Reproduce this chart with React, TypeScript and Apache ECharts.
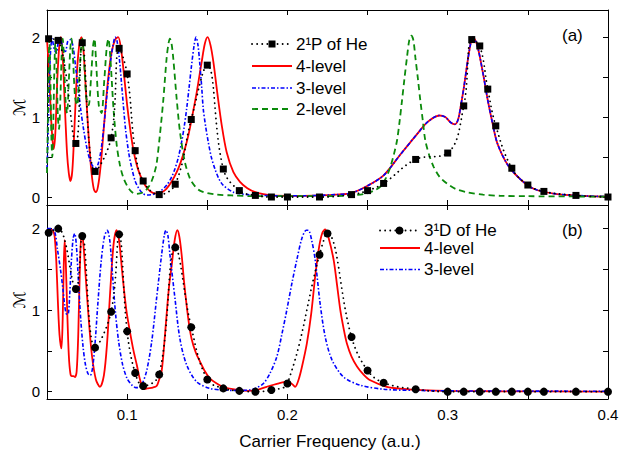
import React, { useEffect, useRef } from "react";
import * as echarts from "echarts";

const xTicks = [0.05, 0.1, 0.15, 0.2, 0.25, 0.3, 0.35, 0.4];
const xLabels = [0.1, 0.2, 0.3, 0.4];
const yTicks = [0, 0.5, 1, 1.5, 2];
const yLabels = [0, 1, 2];

// Panel (a)
const he2P: [number, number][] = [
  [0.051, 1.98], [0.057, 1.96], [0.068, 0.67], [0.072, 1.93], [0.08, 0.32], [0.09, 0.74], [0.095, 1.86],
  [0.1, 1.54], [0.105, 0.58], [0.11, 0.2], [0.12, 0.03], [0.13, 0.16], [0.14, 0.97], [0.15, 1.65],
  [0.16, 0.35], [0.17, 0.08], [0.18, 0.02], [0.19, 0.0], [0.2, 0.0], [0.22, 0.0], [0.24, 0.03],
  [0.25, 0.08], [0.26, 0.17], [0.28, 0.47], [0.3, 0.55], [0.31, 1.14], [0.315, 1.97], [0.32, 1.89],
  [0.325, 1.35], [0.33, 0.89], [0.34, 0.36], [0.35, 0.15], [0.36, 0.07], [0.38, 0.02], [0.4, 0.0],
];

const sharedA: [number, number][] = [
  [0.21, 0.015], [0.22, 0.02], [0.23, 0.03], [0.24, 0.05], [0.25, 0.14], [0.26, 0.27], [0.27, 0.52],
  [0.281, 0.79], [0.2875, 0.94], [0.2948, 1.02], [0.2985, 1.0], [0.302, 0.93], [0.3045, 0.91],
  [0.3065, 0.97], [0.308, 1.12], [0.3103, 1.4], [0.3125, 1.71], [0.3143, 1.92], [0.3156, 2.0],
  [0.317, 1.97], [0.3188, 1.87], [0.322, 1.55], [0.325, 1.21], [0.328, 0.92], [0.331, 0.67],
  [0.3375, 0.4], [0.346, 0.21], [0.354, 0.1], [0.367, 0.04], [0.385, 0.015], [0.4, 0.005],
];

const red4A: [number, number][] = [
  [0.05, 1.97], [0.0512, 1.6], [0.0525, 1.0], [0.0535, 0.7], [0.0542, 0.6], [0.0552, 0.8], [0.0565, 1.5],
  [0.0577, 1.9], [0.0586, 2.0], [0.0597, 1.8], [0.061, 1.2], [0.0625, 0.55], [0.0636, 0.3], [0.0646, 0.2],
  [0.0658, 0.33], [0.0672, 0.9], [0.0688, 1.6], [0.0703, 1.93], [0.0715, 2.0], [0.0727, 1.85],
  [0.0742, 1.35], [0.076, 0.75], [0.0778, 0.3], [0.0792, 0.1], [0.0804, 0.06], [0.0818, 0.13],
  [0.0835, 0.4], [0.0858, 0.95], [0.088, 1.45], [0.0902, 1.8], [0.0925, 1.97], [0.0944, 2.0],
  [0.0962, 1.85], [0.0982, 1.5], [0.1, 1.15], [0.1017, 0.88], [0.1038, 0.6], [0.106, 0.4], [0.108, 0.28],
  [0.11, 0.19], [0.1125, 0.11], [0.1145, 0.07], [0.117, 0.045], [0.12, 0.05], [0.1225, 0.07],
  [0.1246, 0.105], [0.128, 0.2], [0.1309, 0.31], [0.1335, 0.44], [0.136, 0.6], [0.1383, 0.78],
  [0.1403, 0.98], [0.1434, 1.31], [0.1465, 1.69], [0.1485, 1.92], [0.1502, 2.0], [0.152, 1.9],
  [0.1538, 1.69], [0.1562, 1.31], [0.159, 0.9], [0.1621, 0.56], [0.1663, 0.31], [0.1704, 0.19],
  [0.175, 0.11], [0.18, 0.06], [0.185, 0.035], [0.19, 0.02], [0.2, 0.015],
];

const blue3A: [number, number][] = [
  [0.05, 0.35], [0.0507, 0.8], [0.0515, 1.45], [0.0523, 1.85], [0.0532, 1.98], [0.0545, 1.85],
  [0.0558, 1.8], [0.057, 1.93], [0.0585, 1.97], [0.06, 1.85], [0.0615, 1.82], [0.063, 1.95],
  [0.0648, 1.97], [0.0665, 1.85], [0.068, 1.6], [0.0695, 1.35], [0.071, 1.1], [0.0728, 0.85],
  [0.0748, 0.62], [0.077, 0.45], [0.0788, 0.38], [0.0805, 0.37], [0.082, 0.42], [0.0838, 0.6],
  [0.0858, 0.95], [0.088, 1.4], [0.09, 1.75], [0.0915, 1.93], [0.0925, 2.0], [0.0937, 1.95],
  [0.0952, 1.72], [0.097, 1.3], [0.099, 0.85], [0.101, 0.55], [0.1027, 0.38], [0.105, 0.2],
  [0.1075, 0.1], [0.11, 0.04], [0.1125, 0.025], [0.1155, 0.03], [0.118, 0.045], [0.1215, 0.085],
  [0.1246, 0.146], [0.1275, 0.24], [0.1298, 0.35], [0.132, 0.5], [0.134, 0.69], [0.1356, 0.88],
  [0.1371, 1.1], [0.1387, 1.38], [0.1402, 1.65], [0.1418, 1.9], [0.143, 2.0], [0.1442, 1.9],
  [0.1454, 1.65], [0.1465, 1.38], [0.1475, 1.1], [0.149, 0.88], [0.1506, 0.69], [0.1525, 0.5],
  [0.1548, 0.35], [0.1572, 0.23], [0.16, 0.146], [0.1663, 0.06], [0.175, 0.03], [0.185, 0.02],
  [0.2, 0.015],
];

const green2A: [number, number][] = [
  [0.05, 0.3], [0.0505, 0.9], [0.051, 1.6], [0.0515, 1.98], [0.0521, 1.5], [0.0528, 0.7], [0.0533, 0.5],
  [0.0539, 0.9], [0.0546, 1.6], [0.0553, 1.98], [0.056, 1.6], [0.0568, 1.0], [0.0575, 0.85],
  [0.0583, 1.2], [0.0591, 1.75], [0.0598, 1.98], [0.0606, 1.7], [0.0616, 1.2], [0.0625, 1.05],
  [0.0635, 1.4], [0.0645, 1.85], [0.0653, 1.98], [0.0662, 1.75], [0.0675, 1.25], [0.0688, 1.15],
  [0.07, 1.45], [0.0712, 1.85], [0.072, 1.98], [0.073, 1.75], [0.0745, 1.25], [0.076, 1.15],
  [0.0775, 1.5], [0.0788, 1.9], [0.0796, 1.98], [0.0806, 1.7], [0.0823, 1.15], [0.084, 1.05],
  [0.0857, 1.45], [0.0873, 1.88], [0.0883, 1.98], [0.0895, 1.75], [0.0915, 1.1], [0.0935, 0.65],
  [0.0955, 0.4], [0.0975, 0.25], [0.1, 0.14], [0.1025, 0.07], [0.105, 0.04], [0.108, 0.045],
  [0.111, 0.07], [0.1135, 0.13], [0.1153, 0.2], [0.117, 0.3], [0.1184, 0.42], [0.1204, 0.77],
  [0.1225, 1.2], [0.1246, 1.73], [0.1258, 1.92], [0.1267, 1.98], [0.1277, 1.92], [0.1288, 1.73],
  [0.1309, 1.23], [0.133, 0.81], [0.136, 0.44], [0.1392, 0.23], [0.1425, 0.13], [0.1454, 0.08],
  [0.15, 0.05], [0.1559, 0.03], [0.165, 0.02], [0.18, 0.01], [0.2, 0.01], [0.22, 0.01], [0.235, 0.015],
  [0.243, 0.025], [0.2496, 0.045], [0.254, 0.08], [0.258, 0.13], [0.2615, 0.24], [0.2642, 0.375],
  [0.2665, 0.54], [0.2684, 0.71], [0.27, 0.95], [0.2715, 1.21], [0.273, 1.48], [0.2746, 1.75],
  [0.276, 1.96], [0.2773, 2.02], [0.2786, 1.96], [0.2798, 1.75], [0.2814, 1.48], [0.2829, 1.21],
  [0.2845, 0.95], [0.286, 0.71], [0.2885, 0.52], [0.2913, 0.375], [0.295, 0.25], [0.2996, 0.167],
  [0.305, 0.1], [0.3121, 0.06], [0.322, 0.03], [0.333, 0.015], [0.35, 0.01], [0.4, 0.005],
];

// Panel (b)
const he3D: [number, number][] = [
  [0.051, 1.95], [0.057, 2.0], [0.068, 1.26], [0.072, 1.91], [0.08, 0.54], [0.09, 0.98], [0.095, 1.93],
  [0.1, 0.74], [0.105, 0.23], [0.11, 0.07], [0.12, 0.21], [0.13, 1.77], [0.14, 0.79], [0.15, 0.15],
  [0.16, 0.04], [0.17, 0.01], [0.18, 0.0], [0.19, 0.02], [0.2, 0.1], [0.22, 1.68], [0.225, 1.94],
  [0.24, 0.67], [0.25, 0.26], [0.26, 0.11], [0.28, 0.03], [0.3, 0.0], [0.31, 0.0], [0.32, 0.0],
  [0.33, 0.0], [0.34, 0.0], [0.35, 0.0], [0.36, 0.0], [0.38, 0.0], [0.4, 0.0],
];

const red4B: [number, number][] = [
  [0.05, 1.98], [0.052, 1.99], [0.0538, 1.97], [0.0548, 1.9], [0.0558, 1.6], [0.0568, 1.1], [0.0578, 0.7],
  [0.059, 0.53], [0.0598, 0.9], [0.0604, 1.5], [0.061, 1.86], [0.0617, 1.6], [0.0626, 1.0],
  [0.0636, 0.45], [0.0646, 0.22], [0.0655, 0.19], [0.0665, 0.19], [0.0675, 0.18], [0.0685, 0.25],
  [0.0695, 0.7], [0.0705, 1.5], [0.0715, 1.94], [0.0725, 1.85], [0.074, 1.45], [0.076, 0.9],
  [0.078, 0.45], [0.0805, 0.15], [0.083, 0.06], [0.0855, 0.2], [0.0875, 0.6], [0.0895, 1.25],
  [0.0915, 1.8], [0.0934, 1.98], [0.095, 1.85], [0.097, 1.45], [0.0995, 1.0], [0.1017, 0.74],
  [0.104, 0.5], [0.106, 0.33], [0.108, 0.15], [0.1104, 0.03], [0.1125, 0.04], [0.116, 0.05],
  [0.1184, 0.07], [0.12, 0.15], [0.1215, 0.25], [0.123, 0.55], [0.1246, 0.94], [0.1262, 1.3],
  [0.1278, 1.55], [0.1296, 1.85], [0.1313, 1.98], [0.1326, 1.9], [0.134, 1.68], [0.1355, 1.35],
  [0.1371, 1.06], [0.1386, 0.83], [0.1402, 0.65], [0.1428, 0.48], [0.1454, 0.37], [0.1485, 0.25],
  [0.1517, 0.16], [0.1559, 0.1], [0.16, 0.06], [0.166, 0.03], [0.175, 0.01], [0.18, 0.015],
  [0.187, 0.06], [0.194, 0.1], [0.1996, 0.12], [0.2025, 0.1], [0.2048, 0.06], [0.207, 0.15],
  [0.209, 0.3], [0.2121, 0.59], [0.2148, 0.95], [0.2173, 1.41], [0.2198, 1.78], [0.2218, 1.95],
  [0.2236, 1.99], [0.2255, 1.9], [0.2288, 1.62], [0.231, 1.3], [0.233, 1.0], [0.235, 0.78],
  [0.2371, 0.59], [0.24, 0.43], [0.2434, 0.31], [0.2475, 0.21], [0.2517, 0.14], [0.262, 0.06],
  [0.272, 0.035], [0.284, 0.02], [0.3, 0.01], [0.33, 0.005], [0.4, 0.0],
];

const blue3B: [number, number][] = [
  [0.05, 2.0], [0.053, 2.0], [0.055, 1.95], [0.0565, 1.75], [0.0584, 1.5], [0.06, 1.25], [0.0611, 1.05],
  [0.0622, 0.95], [0.0631, 0.95], [0.0642, 1.2], [0.0652, 1.6], [0.0663, 1.88], [0.0673, 1.94],
  [0.0683, 1.8], [0.0695, 1.4], [0.071, 0.9], [0.0725, 0.55], [0.074, 0.33], [0.0756, 0.22],
  [0.077, 0.2], [0.0785, 0.3], [0.08, 0.6], [0.0818, 1.1], [0.0838, 1.6], [0.0858, 1.9],
  [0.0876, 1.98], [0.0892, 1.85], [0.0908, 1.45], [0.0928, 0.95], [0.0948, 0.6], [0.0972, 0.33],
  [0.1, 0.16], [0.103, 0.08], [0.1055, 0.05], [0.107, 0.05], [0.109, 0.08], [0.1121, 0.25],
  [0.1153, 0.61], [0.1184, 1.15], [0.1215, 1.68], [0.1232, 1.92], [0.1242, 1.98], [0.1254, 1.92],
  [0.1267, 1.68], [0.1298, 1.15], [0.1329, 0.65], [0.1371, 0.33], [0.1434, 0.12], [0.1517, 0.04],
  [0.16, 0.02], [0.17, 0.015], [0.176, 0.02], [0.181, 0.05], [0.185, 0.1], [0.189, 0.22],
  [0.1934, 0.43], [0.1965, 0.7], [0.1996, 1.0], [0.203, 1.35], [0.2059, 1.62], [0.209, 1.88],
  [0.2117, 1.98], [0.2131, 1.98], [0.2152, 1.85], [0.2173, 1.62], [0.2204, 1.08], [0.2236, 0.67],
  [0.2278, 0.39], [0.235, 0.18], [0.2454, 0.08], [0.26, 0.03], [0.28, 0.015], [0.3, 0.01], [0.4, 0.005],
];

const FONT = '"Liberation Sans", Arial, sans-serif';
const RED = "#ff0000";
const BLUE = "#0000ff";
const GREEN = "#0b8a0b";

function xAxisDef(gridIndex: number, position: string, showLabel: boolean) {
  return {
    type: "value",
    gridIndex,
    position,
    min: 0.05,
    max: 0.4,
    axisLine: { show: true, onZero: false, lineStyle: { color: "#000", width: 1 } },
    axisTick: { show: true, inside: true, length: 5, customValues: xTicks, lineStyle: { color: "#000", width: 1 } },
    axisLabel: {
      show: showLabel,
      customValues: xLabels,
      formatter: (v: number) => v.toFixed(1),
      fontFamily: FONT,
      fontSize: 15,
      color: "#000",
      margin: 8,
    },
    splitLine: { show: false },
  };
}

function yAxisDef(gridIndex: number, position: string, showLabel: boolean, min: number, max: number) {
  return {
    type: "value",
    gridIndex,
    position,
    min,
    max,
    axisLine: { show: true, onZero: false, lineStyle: { color: "#000", width: 1 } },
    axisTick: { show: true, inside: true, length: 5, customValues: yTicks, lineStyle: { color: "#000", width: 1 } },
    axisLabel: {
      show: showLabel,
      customValues: yLabels,
      formatter: (v: number) => String(Math.round(v)),
      fontFamily: FONT,
      fontSize: 15,
      color: "#000",
      margin: 7,
    },
    splitLine: { show: false },
  };
}

function curve(data: [number, number][], xi: number, yi: number, color: string, type: any, width: number, z: number) {
  return {
    type: "line",
    data,
    xAxisIndex: xi,
    yAxisIndex: yi,
    symbol: "none",
    smooth: 0.3,
    z,
    lineStyle: { color, width, type },
  };
}

function marked(data: [number, number][], xi: number, yi: number, symbol: string, size: number) {
  return {
    type: "line",
    data,
    xAxisIndex: xi,
    yAxisIndex: yi,
    symbol,
    symbolSize: size,
    showAllSymbol: true,
    smooth: 0.4,
    z: 10,
    itemStyle: { color: "#000", borderWidth: 0 },
    lineStyle: { color: "#000", width: 1.8, type: [0.1, 5], cap: "round" },
  };
}

function legendText(x: number, y: number, text: string) {
  return {
    type: "text",
    x,
    y,
    style: {
      text,
      font: `17px ${FONT}`,
      fill: "#000",
      align: "left",
      verticalAlign: "middle",
      textAlign: "left",
      textVerticalAlign: "middle",
    },
  };
}

function legendLine(x1: number, x2: number, y: number, stroke: string, lineDash: any, lineWidth: number) {
  return {
    type: "line",
    shape: { x1, y1: y, x2, y2: y },
    style: { stroke, lineWidth, lineDash, lineCap: lineDash && lineDash[0] < 1 ? "round" : "butt" },
  };
}

export default function App() {
  const ref = useRef<HTMLDivElement>(null);

  useEffect(() => {
    if (!ref.current) return;
    const chart = echarts.init(ref.current, null, { renderer: "svg" });

    const rowsA = [44, 66, 88, 109];
    const rowsB = [230.5, 248, 269.5];

    const graphic: any[] = [
      // legend (a)
      legendLine(252, 292, rowsA[0], "#000", [0.1, 5], 1.8),
      { type: "rect", shape: { x: 268.5, y: rowsA[0] - 3.5, width: 7, height: 7 }, style: { fill: "#000" } },
      legendText(296, rowsA[0], "2¹P of He"),
      legendLine(252, 292, rowsA[1], RED, null, 1.8),
      legendText(296, rowsA[1], "4-level"),
      legendLine(252, 292, rowsA[2], BLUE, [4, 2, 1.5, 2], 1.6),
      legendText(296, rowsA[2], "3-level"),
      legendLine(252, 292, rowsA[3], GREEN, [6, 4], 1.8),
      legendText(296, rowsA[3], "2-level"),
      // legend (b)
      legendLine(380, 420, rowsB[0], "#000", [0.1, 5], 1.8),
      { type: "circle", shape: { cx: 399.5, cy: rowsB[0], r: 4 }, style: { fill: "#000" } },
      legendText(424, rowsB[0], "3¹D of He"),
      legendLine(380, 420, rowsB[1], RED, null, 1.8),
      legendText(424, rowsB[1], "4-level"),
      legendLine(380, 420, rowsB[2], BLUE, [4, 2, 1.5, 2], 1.6),
      legendText(424, rowsB[2], "3-level"),
      // panel labels
      legendText(562, 35, "(a)"),
      legendText(562, 230.5, "(b)"),
      // y axis names
      {
        type: "text",
        x: 19,
        y: 107.5,
        rotation: Math.PI / 2,
        style: { text: "ℳ", font: '16px "DejaVu Sans"', fill: "#000", align: "center", verticalAlign: "middle", textAlign: "center", textVerticalAlign: "middle" },
      },
      {
        type: "text",
        x: 19,
        y: 300,
        rotation: Math.PI / 2,
        style: { text: "ℳ", font: '16px "DejaVu Sans"', fill: "#000", align: "center", verticalAlign: "middle", textAlign: "center", textVerticalAlign: "middle" },
      },
      // x axis title
      {
        type: "text",
        x: 330,
        y: 441,
        style: { text: "Carrier Frequency (a.u.)", font: `17px ${FONT}`, fill: "#000", align: "center", verticalAlign: "middle", textAlign: "center", textVerticalAlign: "middle" },
      },
    ];

    const option: any = {
      animation: false,
      backgroundColor: "#fff",
      textStyle: { fontFamily: FONT },
      grid: [
        { left: 47, top: 10, width: 561, height: 195, containLabel: false },
        { left: 47, top: 205, width: 561, height: 194, containLabel: false },
      ],
      xAxis: [
        xAxisDef(0, "bottom", false),
        xAxisDef(0, "top", false),
        xAxisDef(1, "bottom", true),
        xAxisDef(1, "top", false),
      ],
      yAxis: [
        yAxisDef(0, "left", true, -0.1, 2.34),
        yAxisDef(0, "right", false, -0.1, 2.34),
        yAxisDef(1, "left", true, -0.09, 2.29),
        yAxisDef(1, "right", false, -0.09, 2.29),
      ],
      series: [
        curve(red4A.concat(sharedA), 0, 0, RED, "solid", 1.8, 3),
        curve(blue3A.concat(sharedA), 0, 0, BLUE, [4, 2, 1.5, 2], 1.6, 4),
        curve(green2A, 0, 0, GREEN, [6, 4], 1.8, 5),
        marked(he2P, 0, 0, "rect", 7),
        curve(red4B, 2, 2, RED, "solid", 1.8, 3),
        curve(blue3B, 2, 2, BLUE, [4, 2, 1.5, 2], 1.6, 4),
        marked(he3D, 2, 2, "circle", 8),
      ],
      graphic,
    };

    chart.setOption(option);
    return () => chart.dispose();
  }, []);

  return (
    <div
      ref={ref}
      style={{ position: "fixed", left: 0, top: 0, width: 623, height: 451, background: "#fff" }}
    />
  );
}
